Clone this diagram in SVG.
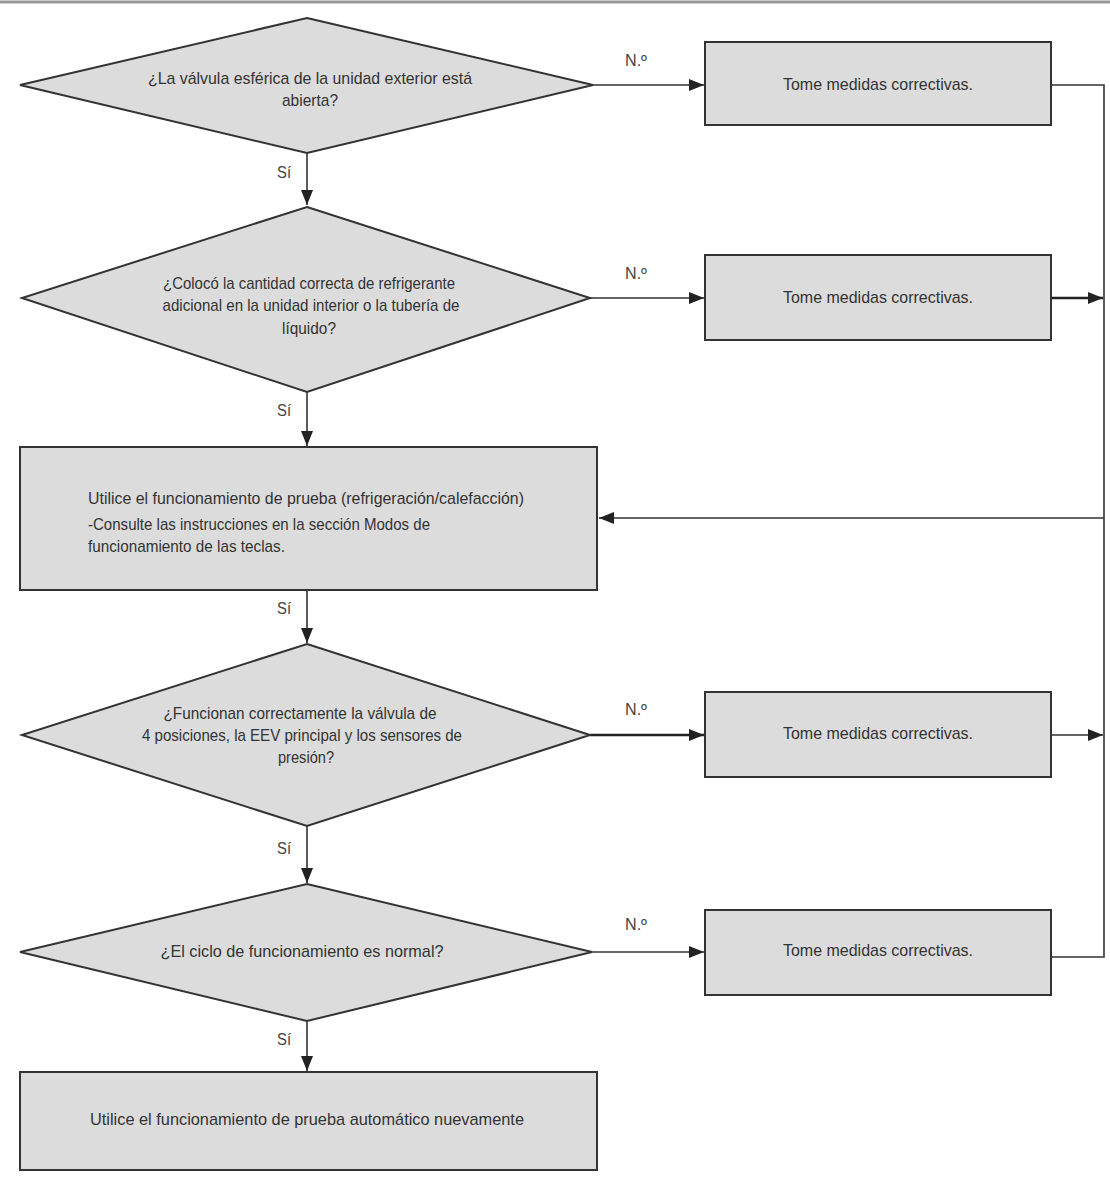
<svg xmlns="http://www.w3.org/2000/svg" width="1110" height="1178" viewBox="0 0 1110 1178">
<style>
.shape{fill:#dcdcdc;stroke:#333;stroke-width:2}
.t{font-family:"Liberation Sans",Arial,sans-serif;font-size:17px;fill:#333;text-anchor:middle}
.tl{font-family:"Liberation Sans",Arial,sans-serif;font-size:17px;fill:#333;text-anchor:start}
.lbl{font-family:"Liberation Sans",Arial,sans-serif;font-size:16px;fill:#444;text-anchor:middle}
.c{fill:none;stroke:#333;stroke-width:1.6}
.ca{fill:none;stroke:#333;stroke-width:1.6;marker-end:url(#ah)}
.cb{fill:none;stroke:#222;stroke-width:2.6;marker-end:url(#ah)}
</style>
<defs>
<marker id="ah" markerUnits="userSpaceOnUse" markerWidth="16" markerHeight="12" refX="15" refY="6" orient="auto">
<path d="M0,0 L15,6 L0,12 Z" fill="#222"/>
</marker>
</defs>
<rect width="1110" height="1178" fill="#fff"/>
<line x1="0" y1="2" x2="1110" y2="2" stroke="#999" stroke-width="3"/>

<g id="connectors">
<path class="ca" d="M307,153 V205"/>
<path class="ca" d="M307,392 V446"/>
<path class="ca" d="M307,590 V643"/>
<path class="ca" d="M307,826 V883"/>
<path class="ca" d="M307,1021 V1071"/>
<path class="ca" d="M593,85 H704"/>
<path class="ca" d="M590,298 H704"/>
<path class="cb" d="M590,735 H704"/>
<path class="ca" d="M592,952 H704"/>
<path class="c" d="M1051,85 H1104 V957 H1051"/>
<path class="cb" d="M1051,298 H1103"/>
<path class="ca" d="M1051,735 H1103"/>
<path class="ca" d="M1104,518 H599"/>
<text class="lbl" x="284" y="178" textLength="14" lengthAdjust="spacingAndGlyphs">Sí</text>
<text class="lbl" x="284" y="416" textLength="14" lengthAdjust="spacingAndGlyphs">Sí</text>
<text class="lbl" x="284" y="614" textLength="14" lengthAdjust="spacingAndGlyphs">Sí</text>
<text class="lbl" x="284" y="854" textLength="14" lengthAdjust="spacingAndGlyphs">Sí</text>
<text class="lbl" x="284" y="1045" textLength="14" lengthAdjust="spacingAndGlyphs">Sí</text>
<text class="lbl" x="636" y="66" textLength="22" lengthAdjust="spacingAndGlyphs">N.º</text>
<text class="lbl" x="636" y="279" textLength="22" lengthAdjust="spacingAndGlyphs">N.º</text>
<text class="lbl" x="636" y="715" textLength="22" lengthAdjust="spacingAndGlyphs">N.º</text>
<text class="lbl" x="636" y="930" textLength="22" lengthAdjust="spacingAndGlyphs">N.º</text>
</g>

<g id="d1">
<polygon class="shape" points="307,18 593,85 307,153 20,85"/>
<text class="t" x="310" y="84" textLength="324" lengthAdjust="spacingAndGlyphs">¿La válvula esférica de la unidad exterior está</text>
<text class="t" x="310" y="106" textLength="56" lengthAdjust="spacingAndGlyphs">abierta?</text>
</g>

<g id="r1">
<rect class="shape" x="705" y="42" width="346" height="83"/>
<text class="t" x="878" y="90" textLength="190" lengthAdjust="spacingAndGlyphs">Tome medidas correctivas.</text>
</g>

<g id="d2">
<polygon class="shape" points="307,207 590,298 307,392 22,298"/>
<text class="t" x="309" y="289" textLength="292" lengthAdjust="spacingAndGlyphs">¿Colocó la cantidad correcta de refrigerante</text>
<text class="t" x="311" y="311" textLength="297" lengthAdjust="spacingAndGlyphs">adicional en la unidad interior o la tubería de</text>
<text class="t" x="309" y="334" textLength="54" lengthAdjust="spacingAndGlyphs">líquido?</text>
</g>

<g id="r2">
<rect class="shape" x="705" y="255" width="346" height="85"/>
<text class="t" x="878" y="303" textLength="190" lengthAdjust="spacingAndGlyphs">Tome medidas correctivas.</text>
</g>

<g id="b3">
<rect class="shape" x="20" y="447" width="577" height="143"/>
<text class="tl" x="88" y="504" textLength="436" lengthAdjust="spacingAndGlyphs">Utilice el funcionamiento de prueba (refrigeración/calefacción)</text>
<text class="tl" x="88" y="530" textLength="342" lengthAdjust="spacingAndGlyphs">-Consulte las instrucciones en la sección Modos de</text>
<text class="tl" x="88" y="552" textLength="197" lengthAdjust="spacingAndGlyphs">funcionamiento de las teclas.</text>
</g>

<g id="d4">
<polygon class="shape" points="307,644 590,735 307,826 22,735"/>
<text class="t" x="300" y="719" textLength="273" lengthAdjust="spacingAndGlyphs">¿Funcionan correctamente la válvula de</text>
<text class="t" x="302" y="741" textLength="320" lengthAdjust="spacingAndGlyphs">4 posiciones, la EEV principal y los sensores de</text>
<text class="t" x="306" y="763" textLength="56" lengthAdjust="spacingAndGlyphs">presión?</text>
</g>

<g id="r3">
<rect class="shape" x="705" y="692" width="346" height="85"/>
<text class="t" x="878" y="739" textLength="190" lengthAdjust="spacingAndGlyphs">Tome medidas correctivas.</text>
</g>

<g id="d5">
<polygon class="shape" points="307,884 592,952 307,1021 20,952"/>
<text class="t" x="302" y="957" textLength="283" lengthAdjust="spacingAndGlyphs">¿El ciclo de funcionamiento es normal?</text>
</g>

<g id="r4">
<rect class="shape" x="705" y="910" width="346" height="85"/>
<text class="t" x="878" y="956" textLength="190" lengthAdjust="spacingAndGlyphs">Tome medidas correctivas.</text>
</g>

<g id="b6">
<rect class="shape" x="20" y="1072" width="577" height="98"/>
<text class="t" x="307" y="1125" textLength="434" lengthAdjust="spacingAndGlyphs">Utilice el funcionamiento de prueba automático nuevamente</text>
</g>
</svg>
